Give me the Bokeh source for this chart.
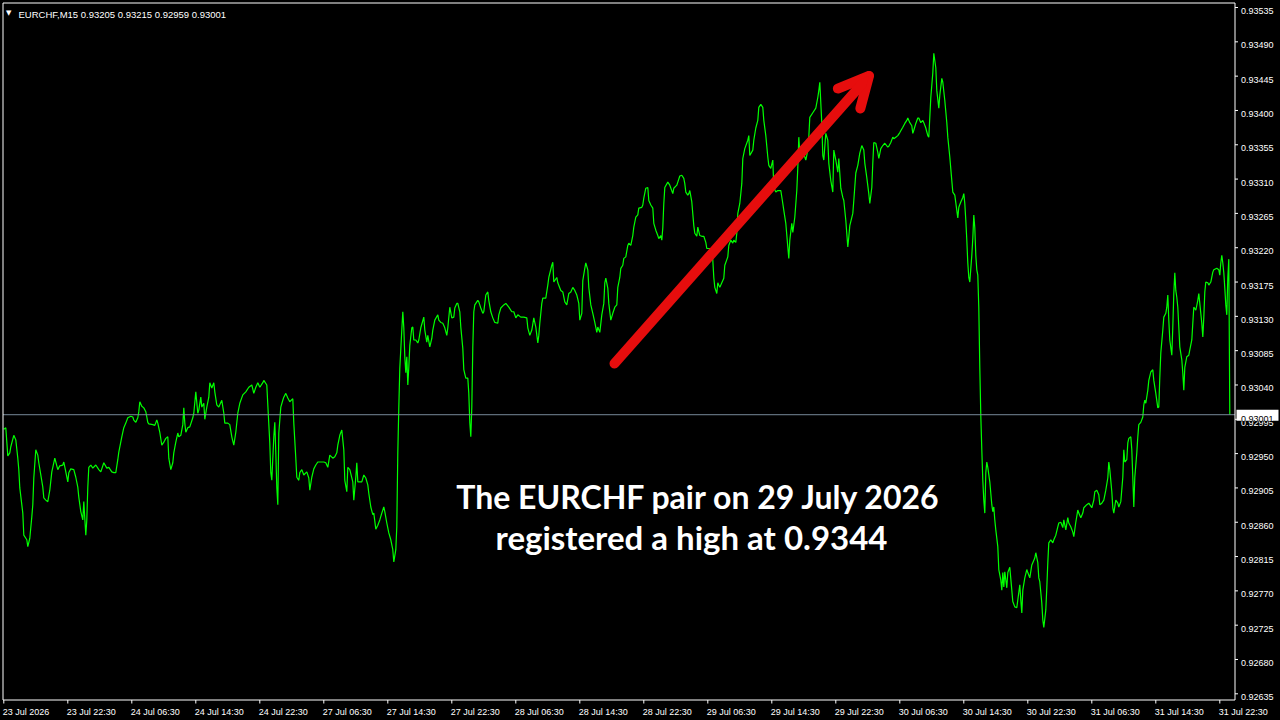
from bokeh.plotting import figure
from bokeh.models import Range1d, Label, Arrow, OpenHead, GlobalInlineStyleSheet
from bokeh.core.properties import value
from bokeh.embed import file_html
from bokeh.resources import INLINE

# ---------------- data (EURCHF M15 closes, bar index -> price) ----------------
bar_index = [
    0, 1, 2, 3, 3.5, 5, 6, 7, 7.5, 8, 9.5, 10, 11.5, 12, 13, 14, 14.5, 15, 16, 17,
    17.5, 18.5, 19.5, 20, 21, 22, 23, 24, 24.5, 25.5, 26, 27, 28, 29.5, 30, 31, 32, 32.5, 33.5, 35,
    36, 37, 37.5, 38.5, 39.5, 40, 41, 41.5, 42, 42.5, 43.5, 44.5, 46, 47.5, 48.5, 50, 51.5, 52.5, 54, 55,
    56, 57, 57.5, 59, 60, 61, 62, 63.5, 64.5, 65, 66, 67, 67.5, 68, 69, 70, 71, 72, 72.5, 74.5,
    75.5, 76.5, 77, 78, 79, 80, 81, 82, 82.5, 83.5, 84.5, 85, 86, 87, 87.5, 88.5, 89.5, 90, 90.5, 91,
    92, 93, 94.5, 95, 96, 97, 97.5, 98.5, 99, 100, 100.5, 101.5, 102.5, 103, 104, 105, 105.5, 106.5, 107.5, 108,
    109, 110, 110.5, 112, 113, 114, 115, 116, 117, 118, 119.5, 121, 122.5, 124, 125, 126, 127, 128, 129.5, 130,
    131.5, 132, 133, 133.5, 134, 135, 135.5, 136, 136.5, 137, 137.5, 138.5, 139.5, 140, 141, 142, 143, 144.5, 145, 146,
    146.5, 147.5, 148, 149, 150, 151.5, 152.5, 153, 154, 155, 156, 157, 158.5, 160, 161, 162, 163, 164.5, 165.5, 166.5,
    167, 168, 169, 170, 170.5, 171.5, 172, 173, 174.5, 175, 176, 176.5, 177, 178, 179, 180, 181, 182, 182.5, 183.5,
    184.5, 185, 186, 187, 188, 189, 190, 190.5, 191.5, 192.5, 193.5, 194.5, 195, 196, 196.5, 197, 197.5, 198, 199, 199.5,
    200, 200.5, 201, 201.5, 202, 202.5, 203, 204, 204.5, 205, 206, 207, 207.5, 208.5, 210, 210.5, 211.5, 212, 213, 214,
    214.5, 215.5, 217, 217.5, 218.5, 219.5, 220.5, 221.5, 222, 223, 224, 225, 225.5, 226.5, 227, 228, 228.5, 229.5, 230, 231,
    232, 232.5, 233, 233.5, 234, 234.5, 235, 235.5, 237, 237.5, 238.5, 239.5, 240, 241, 242, 242.5, 243.5, 244.5, 245.5, 247,
    247.5, 248.5, 250, 251, 252.5, 254, 255, 256, 257, 258.5, 260, 261.5, 262, 263, 264, 265, 266, 267, 267.5, 268,
    269, 269.5, 271, 272, 272.5, 274, 274.5, 275, 276.5, 277, 278.5, 279.5, 280.5, 281.5, 282.5, 283.5, 284.5, 285.5, 286.5, 287.5,
    288, 289, 289.5, 290.5, 291, 292, 292.5, 293.5, 294.5, 295.5, 296.5, 297, 298, 299, 300, 300.5, 301, 302, 302.5, 303.5,
    304.5, 305.5, 306.5, 307, 308, 308.5, 309.5, 310, 311, 312, 312.5, 313.5, 314.5, 315, 316, 317, 317.5, 319, 319.5, 320,
    321, 322, 322.5, 323.5, 324.5, 325, 326, 327, 327.5, 328.5, 329, 329.5, 330, 330.5, 332, 333, 334.5, 335, 336.5, 337,
    338, 339, 340, 340.5, 341, 342, 342.5, 343, 344, 345, 345.5, 346.5, 347, 348, 349, 350, 351, 351.5, 352, 353.5,
    354.5, 355, 355.5, 356.5, 357, 358, 359, 360, 360.5, 362, 362.5, 363.5, 364.5, 365, 366, 366.5, 367, 368, 369, 369.5,
    370.5, 372, 372.5, 373, 374.5, 375, 376, 377, 377.5, 378.5, 379.5, 380, 381, 382, 382.5, 383.5, 384.5, 385, 386, 387,
    388.5, 389.5, 390, 391, 392, 392.5, 393, 394, 394.5, 395.5, 396.5, 397, 397.5, 398, 399, 399.5, 400.5, 401, 402, 402.5,
    403, 404.5, 406, 407, 407.5, 408, 409, 409.5, 410, 411, 412, 412.5, 413.5, 414.5, 415, 416, 417, 417.5, 418.5, 419.5,
    420, 421, 422, 422.5, 423, 424.5, 425, 426, 427, 428, 429, 430, 430.5, 431.5, 432.5, 433, 434, 434.5, 435, 436,
    437, 437.5, 438.5, 439.5, 440.5, 442, 442.5, 443.5, 444.5, 445, 446, 447, 448, 449.5, 450.5, 451.5, 452, 453, 454, 454.5,
    455, 456, 457, 457.5, 458.5, 459.5, 460, 461, 462, 462.5, 463, 463.5, 464.5, 465, 466, 466.5, 467.5, 468, 469, 469.5,
    470.5, 471.5, 472, 473, 474, 474.5, 475.5, 476.5, 477, 477.5, 478.5, 479.5, 480, 480.5, 481, 481.5, 482, 482.5, 483, 484,
    484.5, 485, 485.5, 486, 486.5, 487, 487.5, 488, 488.5, 489, 489.5, 490, 490.5, 491, 491.5, 492, 493, 493.5, 494, 494.5,
    495, 495.5, 496, 497, 497.5, 498.5, 499, 499.5, 500, 500.5, 501.5, 502, 503, 504, 504.5, 505.5, 506.5, 507, 508, 508.5,
    509, 509.5, 510.5, 511.5, 512, 513, 514, 514.5, 515.5, 516, 517, 517.5, 518, 519, 519.5, 520, 521, 521.5, 522, 522.5,
    523.5, 524.5, 525, 526, 527, 527.5, 528.5, 529.5, 530, 531, 532, 532.5, 533.5, 534.5, 535, 536, 537, 537.5, 538.5, 539.5,
    540, 541.5, 542.5, 543, 544, 545, 545.5, 546.5, 547.5, 548, 549, 550, 551, 552, 552.5, 553, 554, 554.5, 555, 556,
    557, 557.5, 558.5, 559.5, 560, 560.5, 561.5, 562, 562.5, 563.5, 564, 564.5, 565, 565.5, 566.5, 567, 567.5, 568.5, 569.5, 570,
    570.5, 571, 572, 572.5, 573.5, 574.5, 575, 576, 577, 577.5, 578, 578.5, 579.5, 580, 581, 581.5, 582, 582.5, 583, 584,
    584.5, 585, 585.5, 586, 586.5, 587, 587.5, 588, 589, 589.5, 590, 590.5, 591.5, 592.5, 593, 594, 594.5, 595, 596, 597,
    597.5, 598, 599, 599.5, 600, 600.5, 601, 602, 602.5, 603.5, 604.5, 605, 606.5, 607.5, 608, 608.5, 609, 609.5, 610, 610.5,
    611, 611.5, 612, 612.5, 613,
]

close_price = [
    0.92982, 0.92984, 0.92947, 0.92951, 0.92959, 0.92974, 0.92968, 0.92944, 0.92929, 0.92905, 0.92872, 0.92843, 0.92837, 0.92828, 0.92839, 0.92867, 0.92883, 0.92918, 0.92955, 0.92948,
    0.92938, 0.92922, 0.92906, 0.92892, 0.92889, 0.92887, 0.92902, 0.92926, 0.92932, 0.92944, 0.92939, 0.92929, 0.92934, 0.92935, 0.92939, 0.92926, 0.92913, 0.92925, 0.92930, 0.92929,
    0.92919, 0.92906, 0.92893, 0.92874, 0.92863, 0.92887, 0.92843, 0.92863, 0.92906, 0.92932, 0.92935, 0.92931, 0.92935, 0.92929, 0.92926, 0.92938, 0.92931, 0.92932, 0.92926, 0.92925,
    0.92925, 0.92942, 0.92952, 0.92972, 0.92984, 0.92990, 0.92997, 0.92999, 0.92998, 0.92994, 0.92991, 0.92997, 0.93005, 0.93018, 0.93012, 0.93010, 0.93005, 0.92991, 0.92989, 0.92988,
    0.92987, 0.92994, 0.92990, 0.92978, 0.92961, 0.92965, 0.92970, 0.92972, 0.92944, 0.92929, 0.92938, 0.92951, 0.92965, 0.92977, 0.92972, 0.92974, 0.92988, 0.93010, 0.92990, 0.92978,
    0.92984, 0.92985, 0.92997, 0.93003, 0.93031, 0.93003, 0.93007, 0.93024, 0.93011, 0.93016, 0.92995, 0.93011, 0.93024, 0.93043, 0.93036, 0.93043, 0.93031, 0.93014, 0.93011, 0.93014,
    0.93020, 0.93003, 0.92990, 0.92990, 0.92988, 0.92972, 0.92961, 0.92978, 0.93003, 0.93016, 0.93027, 0.93031, 0.93037, 0.93040, 0.93029, 0.93037, 0.93043, 0.93037, 0.93043, 0.93046,
    0.93040, 0.93014, 0.92964, 0.92925, 0.92915, 0.92972, 0.92991, 0.92951, 0.92906, 0.92883, 0.92977, 0.93011, 0.93020, 0.93024, 0.93029, 0.93023, 0.93018, 0.93022, 0.92990, 0.92944,
    0.92919, 0.92915, 0.92925, 0.92929, 0.92922, 0.92926, 0.92918, 0.92902, 0.92919, 0.92930, 0.92935, 0.92939, 0.92939, 0.92939, 0.92938, 0.92932, 0.92948, 0.92944, 0.92946, 0.92951,
    0.92961, 0.92974, 0.92981, 0.92955, 0.92915, 0.92900, 0.92932, 0.92929, 0.92913, 0.92889, 0.92919, 0.92938, 0.92913, 0.92913, 0.92913, 0.92922, 0.92918, 0.92909, 0.92898, 0.92880,
    0.92870, 0.92872, 0.92851, 0.92856, 0.92863, 0.92872, 0.92880, 0.92874, 0.92859, 0.92846, 0.92837, 0.92824, 0.92808, 0.92824, 0.92854, 0.92951, 0.93010, 0.93062, 0.93112, 0.93136,
    0.93115, 0.93077, 0.93056, 0.93077, 0.93040, 0.93063, 0.93092, 0.93115, 0.93116, 0.93099, 0.93099, 0.93095, 0.93099, 0.93115, 0.93129, 0.93112, 0.93096, 0.93105, 0.93090, 0.93101,
    0.93112, 0.93125, 0.93132, 0.93125, 0.93122, 0.93121, 0.93115, 0.93105, 0.93115, 0.93142, 0.93128, 0.93129, 0.93141, 0.93147, 0.93147, 0.93136, 0.93116, 0.93088, 0.93060, 0.93049,
    0.93049, 0.93029, 0.92991, 0.92972, 0.93011, 0.93090, 0.93136, 0.93145, 0.93151, 0.93149, 0.93141, 0.93134, 0.93136, 0.93158, 0.93162, 0.93151, 0.93136, 0.93128, 0.93122, 0.93121,
    0.93132, 0.93141, 0.93145, 0.93147, 0.93142, 0.93136, 0.93136, 0.93128, 0.93132, 0.93129, 0.93129, 0.93128, 0.93115, 0.93105, 0.93112, 0.93128, 0.93116, 0.93095, 0.93105, 0.93121,
    0.93147, 0.93154, 0.93154, 0.93171, 0.93181, 0.93197, 0.93201, 0.93175, 0.93181, 0.93174, 0.93164, 0.93162, 0.93149, 0.93145, 0.93160, 0.93162, 0.93168, 0.93164, 0.93158, 0.93147,
    0.93125, 0.93134, 0.93177, 0.93193, 0.93200, 0.93191, 0.93168, 0.93145, 0.93134, 0.93122, 0.93109, 0.93116, 0.93109, 0.93132, 0.93147, 0.93174, 0.93180, 0.93167, 0.93147, 0.93125,
    0.93134, 0.93142, 0.93145, 0.93168, 0.93181, 0.93193, 0.93197, 0.93206, 0.93208, 0.93223, 0.93226, 0.93223, 0.93236, 0.93247, 0.93260, 0.93263, 0.93272, 0.93273, 0.93276, 0.93285,
    0.93298, 0.93299, 0.93282, 0.93276, 0.93272, 0.93252, 0.93243, 0.93236, 0.93232, 0.93236, 0.93230, 0.93246, 0.93278, 0.93299, 0.93306, 0.93302, 0.93291, 0.93298, 0.93302, 0.93306,
    0.93314, 0.93315, 0.93311, 0.93304, 0.93293, 0.93289, 0.93291, 0.93295, 0.93280, 0.93249, 0.93239, 0.93235, 0.93247, 0.93236, 0.93235, 0.93235, 0.93227, 0.93219, 0.93219, 0.93219,
    0.93204, 0.93181, 0.93168, 0.93160, 0.93174, 0.93168, 0.93174, 0.93180, 0.93197, 0.93208, 0.93223, 0.93230, 0.93226, 0.93230, 0.93227, 0.93239, 0.93265, 0.93278, 0.93304, 0.93337,
    0.93350, 0.93361, 0.93367, 0.93341, 0.93348, 0.93361, 0.93377, 0.93387, 0.93404, 0.93408, 0.93404, 0.93387, 0.93367, 0.93339, 0.93328, 0.93324, 0.93335, 0.93299, 0.93293, 0.93295,
    0.93295, 0.93278, 0.93269, 0.93252, 0.93221, 0.93206, 0.93230, 0.93252, 0.93240, 0.93260, 0.93295, 0.93325, 0.93365, 0.93344, 0.93348, 0.93344, 0.93339, 0.93335, 0.93348, 0.93365,
    0.93391, 0.93397, 0.93403, 0.93417, 0.93426, 0.93437, 0.93383, 0.93341, 0.93335, 0.93370, 0.93361, 0.93331, 0.93308, 0.93293, 0.93348, 0.93335, 0.93319, 0.93337, 0.93298, 0.93286,
    0.93282, 0.93256, 0.93221, 0.93234, 0.93249, 0.93265, 0.93282, 0.93318, 0.93328, 0.93344, 0.93354, 0.93348, 0.93331, 0.93312, 0.93291, 0.93278, 0.93299, 0.93331, 0.93358, 0.93357,
    0.93345, 0.93337, 0.93350, 0.93354, 0.93357, 0.93352, 0.93353, 0.93358, 0.93365, 0.93363, 0.93365, 0.93367, 0.93371, 0.93378, 0.93383, 0.93387, 0.93390, 0.93384, 0.93380, 0.93370,
    0.93374, 0.93383, 0.93390, 0.93390, 0.93384, 0.93387, 0.93384, 0.93377, 0.93367, 0.93365, 0.93391, 0.93417, 0.93449, 0.93475, 0.93456, 0.93426, 0.93403, 0.93420, 0.93442, 0.93437,
    0.93413, 0.93384, 0.93365, 0.93339, 0.93308, 0.93293, 0.93289, 0.93269, 0.93259, 0.93273, 0.93280, 0.93286, 0.93291, 0.93278, 0.93256, 0.93230, 0.93200, 0.93181, 0.93175, 0.93210,
    0.93232, 0.93263, 0.93246, 0.93210, 0.93191, 0.93184, 0.93141, 0.93063, 0.93000, 0.92955, 0.92915, 0.92889, 0.92872, 0.92925, 0.92939, 0.92932, 0.92913, 0.92898, 0.92883, 0.92874,
    0.92880, 0.92863, 0.92850, 0.92828, 0.92798, 0.92784, 0.92771, 0.92794, 0.92775, 0.92795, 0.92774, 0.92794, 0.92801, 0.92771, 0.92756, 0.92749, 0.92748, 0.92758, 0.92778, 0.92758,
    0.92741, 0.92771, 0.92787, 0.92798, 0.92794, 0.92787, 0.92804, 0.92807, 0.92813, 0.92820, 0.92807, 0.92787, 0.92782, 0.92754, 0.92732, 0.92722, 0.92745, 0.92774, 0.92807, 0.92833,
    0.92837, 0.92833, 0.92837, 0.92843, 0.92854, 0.92859, 0.92860, 0.92853, 0.92863, 0.92850, 0.92866, 0.92859, 0.92854, 0.92847, 0.92841, 0.92860, 0.92876, 0.92872, 0.92866, 0.92872,
    0.92879, 0.92883, 0.92885, 0.92883, 0.92879, 0.92889, 0.92900, 0.92902, 0.92896, 0.92883, 0.92885, 0.92889, 0.92902, 0.92918, 0.92939, 0.92929, 0.92900, 0.92879, 0.92872, 0.92889,
    0.92885, 0.92880, 0.92887, 0.92919, 0.92955, 0.92939, 0.92942, 0.92964, 0.92970, 0.92972, 0.92955, 0.92919, 0.92880, 0.92919, 0.92951, 0.92972, 0.92988, 0.92991, 0.92998, 0.93014,
    0.93020, 0.93016, 0.93033, 0.93046, 0.93057, 0.93060, 0.93046, 0.93029, 0.93010, 0.93011, 0.93050, 0.93082, 0.93112, 0.93129, 0.93134, 0.93142, 0.93158, 0.93125, 0.93099, 0.93079,
    0.93116, 0.93160, 0.93187, 0.93164, 0.93155, 0.93142, 0.93116, 0.93090, 0.93073, 0.93056, 0.93033, 0.93063, 0.93077, 0.93079, 0.93086, 0.93099, 0.93121, 0.93142, 0.93138, 0.93151,
    0.93160, 0.93147, 0.93121, 0.93103, 0.93129, 0.93162, 0.93175, 0.93174, 0.93171, 0.93175, 0.93188, 0.93191, 0.93193, 0.93191, 0.93184, 0.93200, 0.93210, 0.93200, 0.93187, 0.93167,
    0.93145, 0.93132, 0.93181, 0.93205, 0.93001,
]

time_tick_bars = [0, 32, 64, 96, 128, 160, 192, 224, 256, 288, 320, 352, 384, 416, 448, 480, 512, 544, 576, 608]
time_tick_labels = [
    "23 Jul 2026", "23 Jul 22:30", "24 Jul 06:30", "24 Jul 14:30", "24 Jul 22:30",
    "27 Jul 06:30", "27 Jul 14:30", "27 Jul 22:30", "28 Jul 06:30", "28 Jul 14:30",
    "28 Jul 22:30", "29 Jul 06:30", "29 Jul 14:30", "29 Jul 22:30", "30 Jul 06:30",
    "30 Jul 14:30", "30 Jul 22:30", "31 Jul 06:30", "31 Jul 14:30", "31 Jul 22:30",
]
price_ticks = [0.92635, 0.92680, 0.92725, 0.92770, 0.92815, 0.92860, 0.92905, 0.92950,
               0.92995, 0.93040, 0.93085, 0.93130, 0.93175, 0.93220, 0.93265, 0.93310,
               0.93355, 0.93400, 0.93445, 0.93490, 0.93535]

symbol = "EURCHF,M15"
last_ohlc = [0.93205, 0.93215, 0.92959, 0.93001]
caption_lines = ["The EURCHF pair on 29 July 2026", "registered a high at 0.9344"]

# ------------------------------ canvas / scales ------------------------------
W, H = 1280, 720
PX_PER_BAR = 2.0
X0 = -1.65                       # bar value at the left canvas edge
X1 = X0 + W / PX_PER_BAR
Y1 = 0.935442                    # price at the top canvas edge
Y0 = 0.926000                    # price at the bottom canvas edge
PPP = (Y1 - Y0) / H              # price per pixel


def bar_at(px):
    return X0 + px / PX_PER_BAR


def price_at(py):
    return Y1 - py * PPP


def py_of(price):
    return (Y1 - price) / PPP


LINE_GREEN = "#00ff00"
ARROW_RED = "#e60d0d"
FG = "white"
AXIS_FONT = value("Liberation Sans")
AXIS_SIZE = value("9px")

# chart window edges (pixels) of the MT4 layout
LEFT_PX, RIGHT_PX, TOP_PX, BOTTOM_PX = 2.5, 1234.5, 2.5, 699.5

p = figure(width=W, height=H, output_backend="svg", toolbar_location=None,
           x_range=Range1d(X0, X1), y_range=Range1d(Y0, Y1),
           x_axis_location=None, y_axis_location=None,
           background_fill_color="black", border_fill_color="black",
           min_border=0, min_border_left=0, min_border_right=0,
           min_border_top=0, min_border_bottom=0)
p.stylesheets = [GlobalInlineStyleSheet(css="html, body { background: #000000; }")]
p.grid.visible = False
p.outline_line_color = None

# price line
p.line(bar_index, close_price, line_color=LINE_GREEN, line_width=1.2)

# bid line at last close
last_close = close_price[-1]
p.segment(x0=[bar_at(LEFT_PX)], y0=[last_close], x1=[bar_at(RIGHT_PX)], y1=[last_close],
          line_color="#778899", line_width=1)

# chart window frame
xl, xr = bar_at(LEFT_PX), bar_at(RIGHT_PX)
yt, yb = price_at(TOP_PX), price_at(BOTTOM_PX)
p.segment(x0=[xl, xl, xr, xl], y0=[yb, yt, yb, yb], x1=[xl, xr, xr, xr], y1=[yt, yt, yt, yb],
          line_color=FG, line_width=1)

# price scale on the right: ticks + labels
p.segment(x0=[xr] * len(price_ticks), y0=price_ticks,
          x1=[bar_at(RIGHT_PX + 3)] * len(price_ticks), y1=price_ticks,
          line_color=FG, line_width=1)
p.text(x=[bar_at(1240.5)] * len(price_ticks),
       y=[price_at(py_of(t) + 3.5) for t in price_ticks],
       text=[f"{t:.5f}" for t in price_ticks],
       text_align="left", text_baseline="alphabetic", text_color=FG,
       text_font=AXIS_FONT, text_font_size=AXIS_SIZE)

# time scale at the bottom: ticks + labels starting at the tick
p.segment(x0=time_tick_bars, y0=[yb] * len(time_tick_bars),
          x1=time_tick_bars, y1=[price_at(BOTTOM_PX + 3.5)] * len(time_tick_bars),
          line_color=FG, line_width=1)
p.text(x=[b - 0.5 for b in time_tick_bars], y=[price_at(711)] * len(time_tick_bars),
       text=time_tick_labels, text_align="left", text_baseline="alphabetic",
       text_color=FG, text_font=AXIS_FONT, text_font_size=AXIS_SIZE)

# current price tag on the price scale
p.quad(left=[bar_at(1236)], right=[bar_at(1278)],
       top=[price_at(py_of(last_close) - 5)], bottom=[price_at(py_of(last_close) + 6)],
       fill_color="white", line_color=None)
p.text(x=[bar_at(1240.5)], y=[price_at(py_of(last_close) + 4)], text=[f"{last_close:.5f}"],
       text_align="left", text_baseline="alphabetic", text_color="black",
       text_font=AXIS_FONT, text_font_size=AXIS_SIZE)

# header (symbol + last bar OHLC)
p.text(x=[bar_at(5.5)], y=[price_at(12.5)], text=["\u25bc"], text_align="left",
       text_baseline="alphabetic", text_color=FG, text_font=value("DejaVu Sans"),
       text_font_size=value("7px"))
header = symbol + "  " + " ".join(f"{v:.5f}" for v in last_ohlc)
p.text(x=[bar_at(18)], y=[price_at(14)], text=[header], text_align="left",
       text_baseline="alphabetic", text_color=FG, text_font=AXIS_FONT,
       text_font_size=value("9.5px"))

# annotation arrow
arrow_start = (bar_at(614), price_at(363))
arrow_end = (bar_at(868.5), price_at(75.5))
p.add_layout(Arrow(x_start=arrow_start[0], y_start=arrow_start[1],
                   x_end=arrow_end[0], y_end=arrow_end[1],
                   line_color=ARROW_RED, line_width=10, line_cap="round",
                   end=OpenHead(size=30, line_color=ARROW_RED, line_width=10,
                                line_cap="round", line_join="round")))

# caption
caption_pos = [(bar_at(698.5), price_at(496)), (bar_at(691), price_at(536))]
caption_sizes = ["32px", "33px"]
for (cx, cy), line, size in zip(caption_pos, caption_lines, caption_sizes):
    p.add_layout(Label(x=cx, y=cy, text=line, text_align="center", text_baseline="alphabetic",
                       text_color="white", text_font="Lato", text_font_style="bold",
                       text_font_size=size))

open("out.html", "w").write(file_html(p, INLINE))
